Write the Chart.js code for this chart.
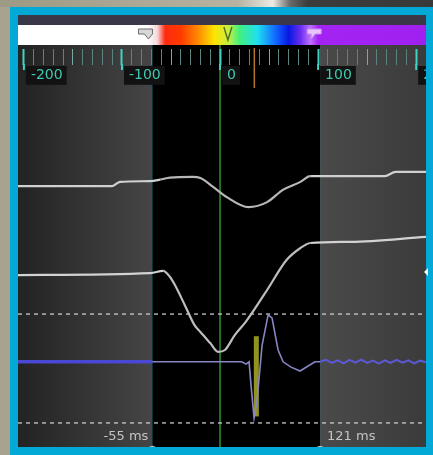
<!DOCTYPE html>
<html>
<head>
<meta charset="utf-8">
<script src="https://cdn.jsdelivr.net/npm/chart.js@4.4.0/dist/chart.umd.min.js"></script>
<style>
  html, body { margin: 0; padding: 0; background: #a6a38e; overflow: hidden; }
  canvas { display: block; }
</style>
</head>
<body>
<canvas id="ecg" width="433" height="455"></canvas>
<script>
// ---- time axis (ms) ----
const timeMin = -206, timeMax = 210;
const rulerMajor = [-200, -100, 0, 100, 200];
const rulerLabels = ['-200', '-100', '0', '100', '200'];
const rulerStep = 10;

// ---- window of interest ----
const windowStart = -69, windowEnd = 102;
const windowLabels = ['-55 ms', '121 ms'];
const latTime = 37;
const latRange = [8, 29];

// ---- LAT colour bar (ms -> colour) ----
const colourTimes  = [-206, -74, -64, -56, -40, -22, -6, 8, 20, 38, 58, 70, 82, 92, 100, 210];
const colourValues = ['#ffffff', '#ffffff', '#f4d8dc', '#ff2a10', '#ff3a00', '#ff8c00', '#ffe400', '#c8f040',
                      '#40f080', '#20e0f0', '#1060ff', '#0818e0', '#6a2cf0', '#c070ff', '#a324f2', '#a020f0'];
const barMarkers = [-74, 8, 96];

// ---- traces ----
const t1Time = [-206, -110, -102, -71, -61, -51, -28, -20, -7, 7, 29, 48, 64, 82, 92, 168, 179, 210];
const t1Val  = [68.3, 68.3, 69.4, 69.6, 70.0, 70.5, 70.7, 70.4, 68.1, 65.4, 62.8, 64.1, 67.3, 69.4, 70.9, 70.9, 72.0, 72.0];

const t2Time = [-206, -71, -58, -51, -46, -36, -26, -20, -10, -2, 5, 15, 26, 36, 48, 68, 82, 92, 133, 210];
const t2Val  = [45.0, 45.5, 46.1, 44.5, 42.4, 37.2, 31.9, 30.1, 27.2, 24.9, 25.4, 29.3, 32.7, 36.4, 41.1, 49.0, 52.1, 53.4, 53.7, 55.0];

const bipTime = [-206, -69, 22, 26.5, 29.6, 31.6, 34.7, 37.8, 42.9, 49, 53, 59.2, 64.3, 72.4, 81.6, 89.8, 96.9,
                 102, 108, 114, 120, 126, 132, 138, 144, 150, 156, 162, 168, 174, 180, 186, 192, 198, 204, 210];
const bipVal  = [22.3, 22.3, 22.3, 21.7, 22.3, 16.2, 7.6, 12.3, 26.7, 34.6, 33.8, 25.4, 22.3, 20.9, 19.9, 21.2, 22.3,
                 22.3, 22.8, 22.0, 22.7, 21.9, 22.8, 22.1, 22.9, 22.0, 22.6, 21.8, 22.7, 22.0, 22.8, 22.1, 22.7, 21.9, 22.6, 22.2];

const refLevels = [34.8, 6.3];

const pts = (xs, ys) => xs.map((t, i) => ({ x: t, y: ys[i] }));
const isMajor = v => rulerMajor.includes(v);
const minorTicks = [];
for (let t = -200; t <= timeMax; t += rulerStep) minorTicks.push(t);

const inWindow = s => s.p0.parsed.x >= windowStart && s.p1.parsed.x <= windowEnd;

const datasets = [
  { // bipolar signal
    data: pts(bipTime, bipVal), tension: 0, borderWidth: 2,
    borderColor: '#5656d8',
    segment: {
      borderColor: s => s.p1.parsed.x <= windowStart ? '#4848d2' : (inWindow(s) ? '#8686c4' : '#5a5ad6'),
      borderWidth: s => s.p1.parsed.x <= windowStart ? 3.4 : (inWindow(s) ? 1.6 : 2)
    }
  },
  { // LAT marker
    data: [{ x: latTime, y: latRange[0] }, { x: latTime, y: latRange[1] }],
    borderColor: 'rgba(170,172,40,0.85)', borderWidth: 5, borderCapStyle: 'butt'
  },
  { // unipolar trace
    data: pts(t2Time, t2Val), cubicInterpolationMode: 'monotone', borderWidth: 2.2,
    borderColor: '#cfcfcf',
    segment: { borderColor: s => inWindow(s) ? '#bdbdbd' : '#d2d2d2' }
  },
  { // upper trace
    data: pts(t1Time, t1Val), cubicInterpolationMode: 'monotone', borderWidth: 2.2,
    borderColor: '#cfcfcf',
    segment: { borderColor: s => inWindow(s) ? '#b8b8b8' : '#d0d0d0' }
  },
  ...refLevels.map(v => ({
    data: [{ x: timeMin, y: v }, { x: timeMax, y: v }],
    borderColor: 'rgba(205,205,205,0.8)', borderWidth: 1.6, borderDash: [4, 4]
  }))
];
datasets.forEach(d => { d.pointRadius = 0; d.fill = false; });

const frame = {
  id: 'frame',
  beforeDraw(chart) {
    const { ctx, scales: { x } } = chart;
    const W = chart.width, H = chart.height;
    const L = 18, R = 426, T = 15, B = chart.chartArea.bottom;
    ctx.save();
    // surroundings
    ctx.fillStyle = '#a6a38e';
    ctx.fillRect(0, 0, W, H);
    const top = ctx.createLinearGradient(0, 0, W, 0);
    top.addColorStop(0, '#9c9984');
    top.addColorStop(0.55, '#b6b3a2');
    top.addColorStop(0.63, '#ecebe4');
    top.addColorStop(0.67, '#6a6a6a');
    top.addColorStop(0.71, '#3c3c3c');
    top.addColorStop(1, '#393939');
    ctx.fillStyle = top;
    ctx.fillRect(0, 0, W, 7);
    // cyan frame
    ctx.fillStyle = '#02a9d6';
    ctx.fillRect(10, 7, W - 10, H - 7);
    // header strip
    ctx.fillStyle = '#3a3848';
    ctx.fillRect(L, T, R - L, 10);
    // colour bar
    const g = ctx.createLinearGradient(L, 0, R, 0);
    colourTimes.forEach((t, i) => {
      const p = (x.getPixelForValue(t) - L) / (R - L);
      g.addColorStop(Math.min(1, Math.max(0, p)), colourValues[i]);
    });
    ctx.fillStyle = g;
    ctx.fillRect(L, 25, R - L, 20);
    // panels
    const wl = x.getPixelForValue(windowStart), wr = x.getPixelForValue(windowEnd);
    const lg = ctx.createLinearGradient(L, 0, wl, 0);
    lg.addColorStop(0, '#232323');
    lg.addColorStop(1, '#454545');
    ctx.fillStyle = lg;
    ctx.fillRect(L, 45, wl - L, B - 45);
    ctx.fillStyle = '#000';
    ctx.fillRect(wl, 45, wr - wl, B - 45);
    const rg = ctx.createLinearGradient(wr, 0, R, 0);
    rg.addColorStop(0, '#4a4a4a');
    rg.addColorStop(1, '#3b3b3b');
    ctx.fillStyle = rg;
    ctx.fillRect(wr, 45, R - wr, B - 45);
    // zero reference
    const z = x.getPixelForValue(0);
    ctx.strokeStyle = '#2e8a2e';
    ctx.lineWidth = 1.6;
    ctx.beginPath(); ctx.moveTo(z, 45); ctx.lineTo(z, B); ctx.stroke();
    // LAT tick on ruler
    const lp = x.getPixelForValue(latTime) - 2;
    ctx.strokeStyle = '#b07a2a';
    ctx.lineWidth = 1.5;
    ctx.beginPath(); ctx.moveTo(lp, 48); ctx.lineTo(lp, 88); ctx.stroke();
    ctx.restore();
  },
  afterDraw(chart) {
    const { ctx, scales: { x } } = chart;
    const W = chart.width, H = chart.height;
    const B = chart.chartArea.bottom, top = chart.chartArea.top;
    ctx.save();
    // longer major ruler ticks
    ctx.strokeStyle = '#3fd3c3';
    ctx.lineWidth = 2;
    rulerMajor.forEach(v => {
      const p = x.getPixelForValue(v);
      ctx.beginPath(); ctx.moveTo(p, top - 1); ctx.lineTo(p, top + 5); ctx.stroke();
    });
    // colour bar markers
    const m0 = x.getPixelForValue(barMarkers[0]);
    ctx.fillStyle = '#d8d8d8'; ctx.strokeStyle = '#6c6c6c'; ctx.lineWidth = 1;
    ctx.beginPath();
    ctx.moveTo(m0 - 9, 29); ctx.lineTo(m0 + 5, 29); ctx.lineTo(m0 + 5, 34); ctx.lineTo(m0 + 1, 39);
    ctx.lineTo(m0 - 3, 34); ctx.lineTo(m0 - 9, 34); ctx.closePath(); ctx.fill(); ctx.stroke();
    const m1 = x.getPixelForValue(barMarkers[1]);
    ctx.strokeStyle = '#5a6a1a'; ctx.lineWidth = 1.4;
    ctx.beginPath(); ctx.moveTo(m1 - 4, 27); ctx.lineTo(m1, 40); ctx.lineTo(m1 + 4, 27); ctx.stroke();
    const m2 = x.getPixelForValue(barMarkers[2]);
    ctx.fillStyle = '#e8c4ff'; ctx.strokeStyle = '#c48af6'; ctx.lineWidth = 1;
    ctx.beginPath();
    ctx.moveTo(m2 - 7, 29); ctx.lineTo(m2 + 7, 29); ctx.lineTo(m2 + 7, 34); ctx.lineTo(m2 + 1, 34);
    ctx.lineTo(m2 - 3, 39); ctx.lineTo(m2 - 3, 34); ctx.lineTo(m2 - 7, 34); ctx.closePath(); ctx.fill(); ctx.stroke();
    // window edge labels and handles
    const wl = x.getPixelForValue(windowStart), wr = x.getPixelForValue(windowEnd);
    ctx.font = '13px "DejaVu Sans", sans-serif';
    ctx.fillStyle = '#c4c4c4';
    ctx.textBaseline = 'middle';
    ctx.textAlign = 'right';
    ctx.fillText(windowLabels[0], wl - 4, B - 10);
    ctx.textAlign = 'left';
    ctx.fillText(windowLabels[1], wr + 7, B - 10);
    ctx.strokeStyle = '#bdbdbd'; ctx.lineWidth = 1.5;
    [wl, wr].forEach(p => { ctx.beginPath(); ctx.arc(p, B + 4, 4.5, 0, Math.PI * 2); ctx.stroke(); });
    // frame edges over everything
    ctx.fillStyle = '#02a9d6';
    ctx.fillRect(10, 7, W - 10, 8);
    ctx.fillRect(10, 7, 8, H - 7);
    ctx.fillRect(426, 7, W - 426, H - 7);
    ctx.fillRect(10, B, W - 10, H - B);
    // side arrow
    ctx.fillStyle = '#f4f4f4';
    ctx.beginPath(); ctx.moveTo(424, 272); ctx.lineTo(428, 268); ctx.lineTo(428, 276); ctx.closePath(); ctx.fill();
    ctx.restore();
  }
};

new Chart(document.getElementById('ecg').getContext('2d'), {
  type: 'line',
  data: { datasets },
  options: {
    responsive: false,
    animation: false,
    events: [],
    layout: { padding: { left: 18, right: 7, top: 45, bottom: 8 } },
    plugins: { legend: { display: false }, tooltip: { enabled: false } },
    scales: {
      x: {
        type: 'linear', position: 'top', min: timeMin, max: timeMax,
        afterBuildTicks: s => { s.ticks = minorTicks.map(v => ({ value: v })); },
        afterFit: s => { s.paddingLeft = 0; s.paddingRight = 0; },
        border: { display: false },
        grid: {
          drawOnChartArea: false, drawTicks: true, tickLength: 16,
          tickColor: c => isMajor(c.tick.value) ? '#3fd3c3' : (c.tick.value % 50 === 0 ? '#7aa8a2' : '#5a8480'),
          tickWidth: c => isMajor(c.tick.value) ? 2 : 1
        },
        ticks: {
          autoSkip: false, maxRotation: 0, minRotation: 0,
          mirror: true, align: 'start', padding: 2, labelOffset: 7,
          color: '#3fc8b0',
          font: { family: '"DejaVu Sans", sans-serif', size: 14 },
          showLabelBackdrop: true,
          backdropColor: c => isMajor(c.tick.value) ? '#121212' : 'rgba(0,0,0,0)',
          backdropPadding: { top: 1, bottom: 1, left: 5, right: 4 },
          callback: v => { const i = rulerMajor.indexOf(v); return i >= 0 ? rulerLabels[i] : ''; }
        }
      },
      y: { display: false, min: 0, max: 100 }
    }
  },
  plugins: [frame]
});
</script>
</body>
</html>
